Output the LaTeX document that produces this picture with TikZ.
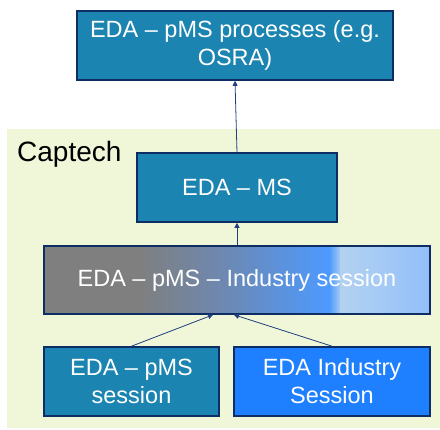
\documentclass[tikz,border=0pt]{standalone}
\usepackage{fontspec}
\setmainfont{Liberation Sans}
\usetikzlibrary{arrows.meta,calc}

\definecolor{boxteal}{HTML}{1B84B0}
\definecolor{boxblue}{HTML}{1E80FF}
\definecolor{boxedge}{HTML}{0E2D63}
\definecolor{captechbg}{HTML}{F0F6D8}
\definecolor{linkblue}{HTML}{1F3F7F}
\definecolor{shadegrey}{HTML}{7F7F7F}
\definecolor{shademid}{HTML}{6E88B0}
\definecolor{shadebright}{HTML}{4C9AFF}
\definecolor{shadepale}{HTML}{B2D0F0}
\definecolor{shadelight}{HTML}{A8CCF4}
\definecolor{shadeend}{HTML}{92BEFA}

\tikzset{
  edabox/.style={draw=boxedge, line width=1.6pt, fill=boxteal, text=white,
    align=center, inner sep=0pt, minimum height=69pt,
    font=\fontsize{23.5}{28}\selectfont},
  link/.style={draw=linkblue, line width=0.8pt, -{Triangle[width=5pt,length=5pt]}},
  % grey to blue band of the joint session box
  sessionband/.style={path picture={
    \foreach \from/\to/\cfrom/\cto in {0/0.25/shadegrey/shadegrey,
        0.25/0.46/shadegrey/shademid, 0.46/0.74/shademid/shadebright,
        0.74/0.77/shadebright/shadepale, 0.77/0.85/shadepale/shadelight,
        0.85/1/shadelight/shadeend}
      \shade[left color=\cfrom, right color=\cto]
        ($(path picture bounding box.north west)!\from!(path picture bounding box.north east)+(-0.5,0)$)
        rectangle
        ($(path picture bounding box.south west)!\to!(path picture bounding box.south east)+(0.5,0)$);
  }}
}

\begin{document}
\begin{tikzpicture}[x=1pt,y=-1pt]
  \useasboundingbox (0,0) rectangle (440,430);
  % Captech area
  \fill[captechbg] (7,129) rectangle (440,428);
  \node[anchor=base west, inner sep=0pt, font=\fontsize{28}{32}\selectfont] (captech) at (17,162) {Captech};
  % boxes
  \node[edabox, minimum width=316pt] (processes) at (235,45.5) {EDA -- pMS processes (e.g.\\OSRA)};
  \node[edabox, minimum width=200pt] (ms) at (237,187.5) {EDA -- MS};
  \node[edabox, minimum width=386pt, minimum height=68pt, sessionband] (joint) at (237,280) {EDA -- pMS -- Industry session};
  \node[edabox, minimum width=175pt] (pms) at (131.5,381.5) {EDA -- pMS\\session};
  \node[edabox, minimum width=196pt, fill=boxblue] (industry) at (332,381.5) {EDA Industry\\Session};
  % links
  \draw[link] (ms.north) -- (processes.south);
  \draw[link] (joint.north) -- (ms.south);
  \draw[link] (pms.north) -- ([xshift=-24pt]joint.south);
  \draw[link] (industry.north) -- ([xshift=-3pt]joint.south);
\end{tikzpicture}
\end{document}
